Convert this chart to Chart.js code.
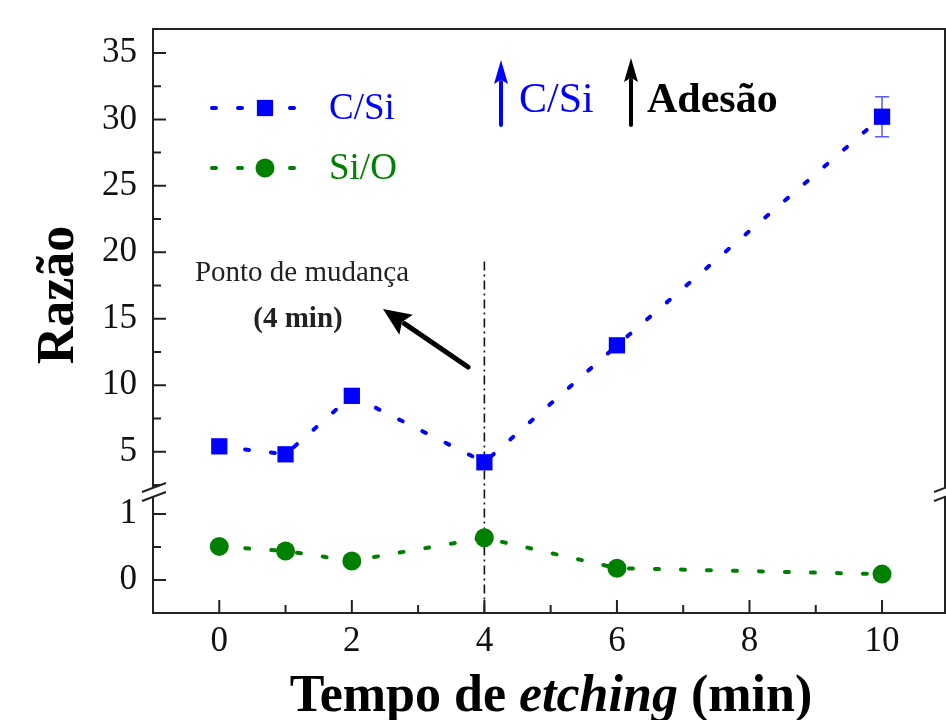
<!DOCTYPE html>
<html><head><meta charset="utf-8">
<script src="https://cdn.jsdelivr.net/npm/chart.js@4.4.1/dist/chart.umd.min.js"></script>
<style>html,body{margin:0;padding:0;background:#fff}#wrap{width:946px;height:720px;position:relative}</style>
</head><body><div id="wrap"><canvas id="c" width="946" height="720"></canvas></div>
<script>
// ---- data ----
const etchTimes = [0, 1, 2, 4, 6, 10];
const csiValues = [5.4, 4.8, 9.2, 4.2, 13.0, 30.2];
const csiErrors = [0, 0, 0, 0, 0, 1.5];
const sioValues = [0.51, 0.44, 0.29, 0.64, 0.18, 0.09];
const xTicks = [0, 2, 4, 6, 8, 10];
const xMinorTicks = [1, 3, 5, 7, 9];
const upperTicks = [5, 10, 15, 20, 25, 30, 35];
const upperMinorTicks = [2.5, 7.5, 12.5, 17.5, 22.5, 27.5, 32.5];
const lowerTicks = [0, 1];
const lowerMinorTicks = [0.5];
const changePoint = 4;
const changeLineTop = 19.3;
const seriesNames = ['C/Si', 'Si/O'];

const SERIF = '"Liberation Serif", "Times New Roman", serif';
const BLUE = '#0000ff', GREEN = '#008000', INK = '#111';

function arrow(ctx, x1, y1, x2, y2, lw, headLen, headHalf, color) {
  const ang = Math.atan2(y2 - y1, x2 - x1);
  const bx = x2 - headLen * Math.cos(ang), by = y2 - headLen * Math.sin(ang);
  ctx.strokeStyle = color; ctx.fillStyle = color; ctx.lineWidth = lw; ctx.lineCap = 'round';
  ctx.beginPath(); ctx.moveTo(x1, y1); ctx.lineTo(bx + 2 * Math.cos(ang), by + 2 * Math.sin(ang)); ctx.stroke();
  ctx.beginPath();
  ctx.moveTo(x2, y2);
  ctx.lineTo(bx + headHalf * Math.sin(ang), by - headHalf * Math.cos(ang));
  ctx.lineTo(bx + headLen * 0.18 * Math.cos(ang), by + headLen * 0.18 * Math.sin(ang));
  ctx.lineTo(bx - headHalf * Math.sin(ang), by + headHalf * Math.cos(ang));
  ctx.closePath(); ctx.fill();
}

const deco = {
  id: 'deco',
  beforeDatasetsDraw(chart) {
    const {ctx, chartArea: a, scales} = chart;
    const x = scales.x, yt = scales.yTop;
    ctx.save();
    // dash-dot change line
    ctx.strokeStyle = INK; ctx.lineWidth = 1.6; ctx.setLineDash([9, 4, 2, 4]);
    const px = x.getPixelForValue(changePoint);
    ctx.beginPath(); ctx.moveTo(px, yt.getPixelForValue(changeLineTop)); ctx.lineTo(px, a.bottom); ctx.stroke();
    ctx.setLineDash([]);
    // error bars
    ctx.strokeStyle = '#5a5aff'; ctx.lineWidth = 1.5;
    etchTimes.forEach((t, i) => {
      if (!csiErrors[i]) return;
      const cx = x.getPixelForValue(t);
      const y1 = yt.getPixelForValue(csiValues[i] + csiErrors[i]);
      const y2 = yt.getPixelForValue(csiValues[i] - csiErrors[i]);
      ctx.beginPath();
      ctx.moveTo(cx, y1); ctx.lineTo(cx, y2);
      ctx.moveTo(cx - 7, y1); ctx.lineTo(cx + 7, y1);
      ctx.moveTo(cx - 7, y2); ctx.lineTo(cx + 7, y2);
      ctx.stroke();
    });
    ctx.restore();
  },
  afterDatasetsDraw(chart) {
    const {ctx, chartArea: a, scales} = chart;
    const x = scales.x, yt = scales.yTop, yb = scales.yBot;
    ctx.save();
    // frame
    ctx.strokeStyle = '#222'; ctx.lineWidth = 2;
    ctx.strokeRect(a.left, a.top, a.right - a.left, a.bottom - a.top);
    // ticks
    ctx.beginPath();
    xTicks.forEach(v => { const p = x.getPixelForValue(v); ctx.moveTo(p, a.bottom); ctx.lineTo(p, a.bottom - 13); });
    xMinorTicks.forEach(v => { const p = x.getPixelForValue(v); ctx.moveTo(p, a.bottom); ctx.lineTo(p, a.bottom - 8); });
    upperTicks.forEach(v => { const p = yt.getPixelForValue(v); ctx.moveTo(a.left, p); ctx.lineTo(a.left + 13, p); });
    upperMinorTicks.forEach(v => { const p = yt.getPixelForValue(v); ctx.moveTo(a.left, p); ctx.lineTo(a.left + 8, p); });
    lowerTicks.forEach(v => { const p = yb.getPixelForValue(v); ctx.moveTo(a.left, p); ctx.lineTo(a.left + 13, p); });
    lowerMinorTicks.forEach(v => { const p = yb.getPixelForValue(v); ctx.moveTo(a.left, p); ctx.lineTo(a.left + 8, p); });
    ctx.stroke();
    // axis breaks
    const b = yt.bottom;
    [a.left, a.right].forEach(ax => {
      ctx.fillStyle = '#fff';
      ctx.beginPath();
      ctx.moveTo(ax - 3, b + 4); ctx.lineTo(ax + 3, b + 2); ctx.lineTo(ax + 3, b - 6); ctx.lineTo(ax - 3, b - 4);
      ctx.closePath(); ctx.fill();
      ctx.strokeStyle = '#222'; ctx.lineWidth = 2;
      ctx.beginPath();
      ctx.moveTo(ax - 11, b + 8); ctx.lineTo(ax + 13, b - 1);
      ctx.moveTo(ax - 11, b - 1); ctx.lineTo(ax + 13, b - 10);
      ctx.stroke();
    });
    // legend
    const ds = chart.data.datasets;
    [[108, 0], [168, 1]].forEach(([ly, i]) => {
      const d = ds[i];
      ctx.strokeStyle = d.borderColor; ctx.lineWidth = d.borderWidth; ctx.lineCap = 'round';
      ctx.setLineDash(d.borderDash);
      ctx.beginPath(); ctx.moveTo(212, ly); ctx.lineTo(316, ly); ctx.stroke();
      ctx.setLineDash([]);
      ctx.fillStyle = d.pointBackgroundColor;
      Chart.helpers.drawPoint(ctx, {pointStyle: d.pointStyle, radius: d.pointRadius, borderWidth: 0}, 265, ly);
      ctx.fillStyle = d.borderColor;
      ctx.font = '37px ' + SERIF; ctx.textAlign = 'left'; ctx.textBaseline = 'middle';
      ctx.fillText(d.label, 329, ly + 1);
    });
    // annotations top
    arrow(ctx, 501, 125, 501, 60, 4, 24, 7, BLUE);
    arrow(ctx, 631, 125, 631, 58, 4, 24, 7, '#000');
    ctx.textBaseline = 'middle'; ctx.textAlign = 'left';
    ctx.fillStyle = BLUE; ctx.font = '42px ' + SERIF; ctx.fillText('C/Si', 519, 101);
    ctx.fillStyle = '#000'; ctx.font = 'bold 42px ' + SERIF; ctx.fillText('Adesão', 647, 101);
    // change point annotation
    ctx.textAlign = 'center';
    ctx.fillStyle = '#222'; ctx.font = '29px ' + SERIF; ctx.fillText('Ponto de mudança', 302, 273);
    ctx.font = 'bold 29px ' + SERIF; ctx.fillText('(4 min)', 298, 320);
    arrow(ctx, 468, 367, 383, 309, 5, 28, 12, '#000');
    // axis titles
    ctx.fillStyle = '#000';
    ctx.textBaseline = 'alphabetic';
    const parts = [['Tempo de ', 'bold 52px '], ['etching', 'italic bold 52px '], [' (min)', 'bold 52px ']];
    let total = 0;
    parts.forEach(p => { ctx.font = p[1] + SERIF; total += ctx.measureText(p[0]).width; });
    let cx = 551 - total / 2;
    ctx.textAlign = 'left';
    parts.forEach(p => { ctx.font = p[1] + SERIF; ctx.fillText(p[0], cx, 711); cx += ctx.measureText(p[0]).width; });
    ctx.save();
    ctx.translate(73, 295); ctx.rotate(-Math.PI / 2);
    ctx.textAlign = 'center'; ctx.font = 'bold 52px ' + SERIF;
    ctx.fillText('Razão', 0, 0);
    ctx.restore();
    ctx.restore();
  }
};

const tickFont = {family: SERIF, size: 35};
const noPad = s => { s.paddingTop = 0; s.paddingBottom = 0; s.paddingLeft = 0; s.paddingRight = 0; };
const yCommon = {
  type: 'linear', position: 'left', stack: 'y',
  grid: {display: false, drawTicks: false}, border: {display: false},
  ticks: {font: tickFont, color: INK, padding: 16},
  afterFit: s => { s.width = 153; noPad(s); }
};

new Chart(document.getElementById('c'), {
  type: 'line',
  data: {
    datasets: [
      {
        label: seriesNames[0], yAxisID: 'yTop', xAxisID: 'x',
        data: etchTimes.map((t, i) => ({x: t, y: csiValues[i]})),
        borderColor: BLUE, borderWidth: 4, borderDash: [4, 22], borderCapStyle: 'round',
        pointStyle: 'rect', pointRadius: 11.5, pointBackgroundColor: BLUE, pointBorderWidth: 0,
        tension: 0, fill: false
      },
      {
        label: seriesNames[1], yAxisID: 'yBot', xAxisID: 'x',
        data: etchTimes.map((t, i) => ({x: t, y: sioValues[i]})),
        borderColor: GREEN, borderWidth: 4, borderDash: [4, 22], borderCapStyle: 'round',
        pointStyle: 'circle', pointRadius: 9.5, pointBackgroundColor: GREEN, pointBorderWidth: 0,
        tension: 0, fill: false
      }
    ]
  },
  options: {
    responsive: false, animation: false, devicePixelRatio: 1,
    events: [],
    layout: {autoPadding: false, padding: {top: 29, right: 1, left: 0, bottom: 0}},
    plugins: {legend: {display: false}, tooltip: {enabled: false}, title: {display: false}},
    scales: {
      x: {
        type: 'linear', position: 'bottom', min: -1, max: 10.95,
        grid: {display: false, drawTicks: false}, border: {display: false},
        ticks: {font: tickFont, color: INK, padding: 8, autoSkip: false, maxRotation: 0},
        afterBuildTicks: s => { s.ticks = xTicks.map(v => ({value: v})); },
        afterFit: s => { s.height = 107; noPad(s); }
      },
      yTop: Object.assign({}, yCommon, {
        weight: 1, stackWeight: 464, min: 1.89, max: 36.8,
        afterBuildTicks: s => { s.ticks = upperTicks.map(v => ({value: v})); }
      }),
      yBot: Object.assign({}, yCommon, {
        weight: 0, stackWeight: 120, min: -0.5, max: 1.32,
        afterBuildTicks: s => { s.ticks = lowerTicks.map(v => ({value: v})); }
      })
    }
  },
  plugins: [deco]
});
</script></body></html>
